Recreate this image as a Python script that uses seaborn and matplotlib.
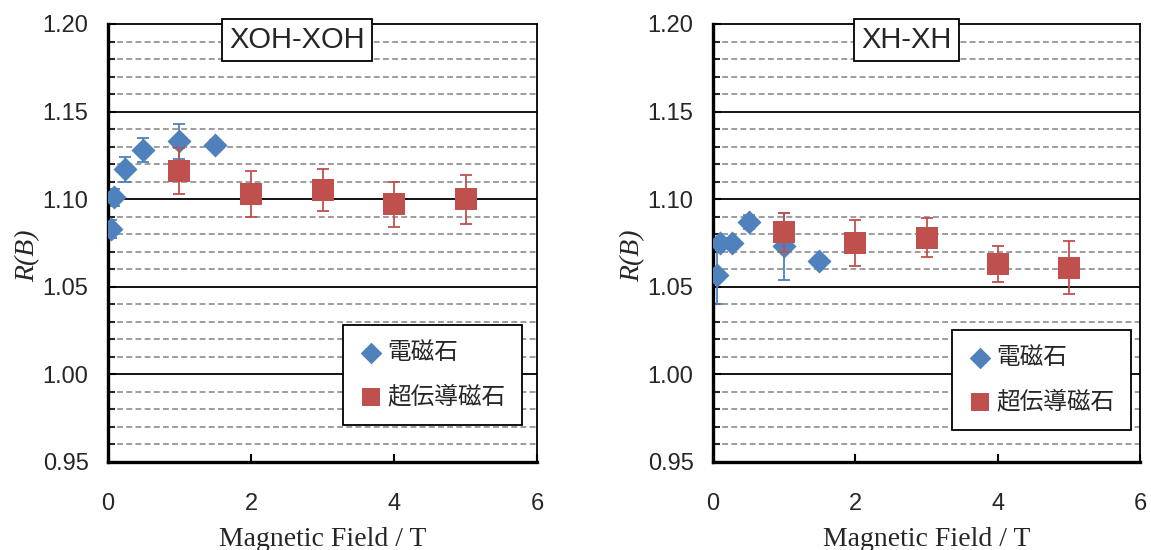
import numpy as np
import pandas as pd
import matplotlib
matplotlib.use('Agg')
import matplotlib.pyplot as plt
import seaborn as sns

sns.set_style('white')
plt.rcParams['font.family'] = ['Liberation Sans', 'Noto Sans CJK JP']

# ---- data ----
panel_titles = ['XOH-XOH', 'XH-XH']
label_em = '電磁石'
label_sc = '超伝導磁石'

# electromagnet (blue diamonds)
em_x_l = [0.04, 0.09, 0.24, 0.49, 1.0, 1.5]
em_y_l = [1.083, 1.101, 1.117, 1.128, 1.133, 1.131]
em_err_l = [0.005, 0.005, 0.007, 0.007, 0.010, 0.003]
em_x_r = [0.05, 0.10, 0.26, 0.51, 1.0, 1.49]
em_y_r = [1.057, 1.075, 1.075, 1.087, 1.073, 1.065]
em_err_r = [0.017, 0.003, 0.003, 0.004, 0.019, 0.002]

# superconducting magnet (red squares)
sc_x = [1, 2, 3, 4, 5]
sc_y_l = [1.116, 1.103, 1.105, 1.097, 1.100]
sc_err_l = [0.013, 0.013, 0.012, 0.013, 0.014]
sc_y_r = [1.081, 1.075, 1.078, 1.063, 1.061]
sc_err_r = [0.011, 0.013, 0.011, 0.010, 0.015]

x_ticks = [0, 2, 4, 6]
y_ticks = [0.95, 1.00, 1.05, 1.10, 1.15, 1.20]

blue = '#4F81BD'
red = '#C0504D'

panels = [
    (panel_titles[0], em_x_l, em_y_l, em_err_l, sc_y_l, sc_err_l, 0.44, (0.965, 0.084)),
    (panel_titles[1], em_x_r, em_y_r, em_err_r, sc_y_r, sc_err_r, 0.452, (0.979, 0.073)),
]

fig = plt.figure(figsize=(11.51, 5.5), dpi=100)
ax_pos = [[0.0938, 0.16, 0.3728, 0.7964], [0.6195, 0.16, 0.371, 0.7964]]

for pos, (title, ex, ey, eerr, sy, serr, tx, leg_anchor) in zip(ax_pos, panels):
    ax = fig.add_axes(pos)
    df_em = pd.DataFrame({'B': ex, 'R': ey, 'err': eerr})
    df_sc = pd.DataFrame({'B': sc_x, 'R': sy, 'err': serr})

    # grid: solid major, dashed minor
    for v in np.arange(0.96, 1.20, 0.01):
        if abs(round(v * 100) % 5) == 0:
            ax.axhline(v, color='black', lw=1.3, zorder=0)
        else:
            ax.axhline(v, color='#8c8c8c', lw=1.2, ls=(0, (3.5, 2)), zorder=0)

    ax.errorbar(df_em['B'], df_em['R'], yerr=df_em['err'], fmt='none',
                ecolor=blue, elinewidth=1.3, capsize=4.5, capthick=1.3, zorder=2)
    sns.scatterplot(data=df_em, x='B', y='R', ax=ax, marker='D', s=150,
                    color=blue, edgecolor=blue, linewidth=0, label=label_em, zorder=3)
    ax.errorbar(df_sc['B'], df_sc['R'], yerr=df_sc['err'], fmt='none',
                ecolor=red, elinewidth=1.3, capsize=4.5, capthick=1.3, zorder=4)
    sns.scatterplot(data=df_sc, x='B', y='R', ax=ax, marker='s', s=230,
                    color=red, edgecolor=red, linewidth=0, label=label_sc, zorder=5)

    ax.set_xlim(0, 6)
    ax.set_ylim(0.95, 1.20)
    ax.set_xticks(x_ticks)
    ax.set_yticks(y_ticks)
    ax.set_yticks(np.arange(0.95, 1.2001, 0.01), minor=True)
    ax.set_xticklabels([str(t) for t in x_ticks])
    ax.set_yticklabels([f'{t:.2f}' for t in y_ticks])
    ax.tick_params(axis='both', which='major', direction='in', labelsize=17,
                   length=6, width=1.5, color='black', left=True, bottom=True)
    ax.tick_params(axis='x', pad=22)
    ax.tick_params(axis='y', pad=14)
    ax.tick_params(axis='y', which='minor', direction='in', length=5, width=1.5, left=True)

    for side in ['left', 'bottom']:
        ax.spines[side].set_linewidth(2.4)
        ax.spines[side].set_color('black')
    for side in ['top', 'right']:
        ax.spines[side].set_linewidth(1.3)
        ax.spines[side].set_color('black')

    ax.set_xlabel('Magnetic Field / T', family='Liberation Serif', fontsize=20, labelpad=9)
    ax.set_ylabel('R(B)', family='Liberation Serif', style='italic', fontsize=20)
    ax.yaxis.set_label_coords(-0.158, 0.47)

    ax.text(tx, 0.963, title, transform=ax.transAxes, ha='center', va='center',
            fontsize=21, zorder=10,
            bbox=dict(boxstyle='square,pad=0.25', fc='white', ec='black', lw=1.3))

    leg = ax.legend(loc='lower right', bbox_to_anchor=leg_anchor, frameon=True,
                    fancybox=False, edgecolor='black', framealpha=1,
                    prop={'family': ['Noto Sans CJK JP'], 'size': 17},
                    labelspacing=0.9, handletextpad=0.2, handlelength=1.0,
                    borderpad=0.7, borderaxespad=0, markerscale=0.9)
    leg.get_frame().set_linewidth(1.3)
    leg.set_zorder(10)

fig.savefig('out.png', dpi=100)
